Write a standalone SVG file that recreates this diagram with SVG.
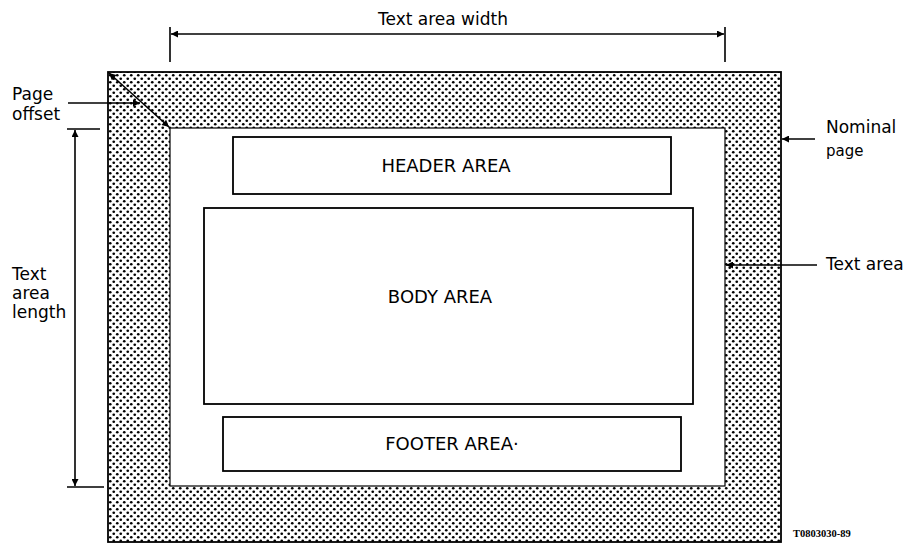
<svg xmlns="http://www.w3.org/2000/svg" width="904" height="544" viewBox="0 0 904 544">
<style>
text{font-family:"DejaVu Sans","Liberation Sans",Arial,sans-serif;fill:#000;font-size:17px}
.area{text-anchor:middle;font-size:18px}
.box{fill:#fff;stroke:#000;stroke-width:1.8}
.ln{stroke:#000;stroke-width:1.6;fill:none}
</style>
<defs>
<pattern id="dots" width="7" height="7" patternUnits="userSpaceOnUse">
<rect width="7" height="7" fill="#fff"/>
<circle cx="1.75" cy="1.75" r="1.35" fill="#000"/>
<circle cx="5.25" cy="5.25" r="1.35" fill="#000"/>
</pattern>
<marker id="ah" viewBox="0 0 10 10" refX="10" refY="5" markerWidth="8" markerHeight="7" orient="auto-start-reverse" markerUnits="userSpaceOnUse">
<path d="M0,0 L10,5 L0,10 Z" fill="#000"/>
</marker>
</defs>
<g id="nominal-page">
<rect x="108" y="72" width="673" height="470" fill="url(#dots)" stroke="#000" stroke-width="1.8"/>
</g>
<g id="text-area">
<rect x="170" y="128" width="555" height="358" fill="#fff" stroke="#000" stroke-width="1.2"/>
</g>
<g id="header-area">
<rect class="box" x="233" y="137" width="438" height="57"/>
<text class="area" x="446" y="172">HEADER AREA</text>
</g>
<g id="body-area">
<rect class="box" x="204" y="208" width="489" height="196"/>
<text class="area" x="440" y="303">BODY AREA</text>
</g>
<g id="footer-area">
<rect class="box" x="223" y="417" width="458" height="54"/>
<text class="area" x="452" y="450">FOOTER AREA·</text>
</g>
<g id="connectors">
<path class="ln" d="M170,27 V62 M725,27 V62"/>
<path class="ln" d="M171,34 H724" marker-start="url(#ah)" marker-end="url(#ah)"/>
<path class="ln" d="M67,129 H100 M67,487 H104"/>
<path class="ln" d="M75,130 V486" marker-start="url(#ah)" marker-end="url(#ah)"/>
<path class="ln" d="M109,73 L169,127" marker-start="url(#ah)" marker-end="url(#ah)"/>
<path class="ln" d="M68,103 H140" marker-end="url(#ah)"/>
<path class="ln" d="M815,139 H782" marker-end="url(#ah)"/>
<path class="ln" d="M817,265 H726" marker-end="url(#ah)"/>
</g>
<g id="labels">
<text x="378" y="25">Text area width</text>
<text x="12" y="100">Page</text>
<text x="12" y="120">offset</text>
<text x="826" y="133">Nominal</text>
<text x="826" y="156" style="font-size:15px">page</text>
<text x="826" y="270">Text area</text>
<text x="12" y="280">Text</text>
<text x="12" y="299">area</text>
<text x="12" y="318">length</text>
<text x="793" y="537" style="font-family:'Liberation Serif',serif;font-size:10.5px;font-weight:bold">T0803030-89</text>
</g>
</svg>
